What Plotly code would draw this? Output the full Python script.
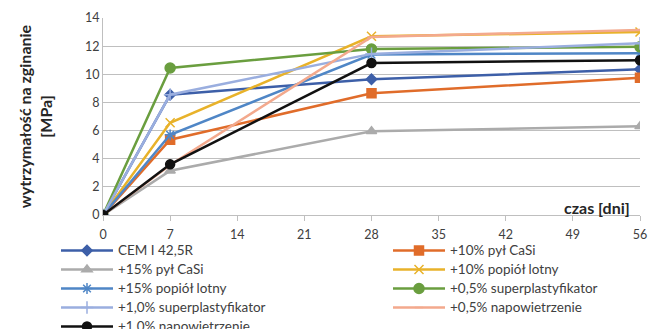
import plotly.graph_objects as go

days = [0, 7, 28, 56]
series_names = [
    "CEM I 42,5R", "+10% pył CaSi", "+15% pył CaSi", "+10% popiół lotny",
    "+15% popiół lotny", "+0,5% superplastyfikator", "+1,0% superplastyfikator",
    "+0,5% napowietrzenie", "+1,0% napowietrzenie",
]
cem = [0, 8.55, 9.65, 10.35]
pyl10 = [0, 5.35, 8.65, 9.75]
pyl15 = [0, 3.15, 5.95, 6.3]
pop10 = [0, 6.55, 12.7, 13.0]
pop15 = [0, 5.7, 11.4, 11.5]
sp05 = [0, 10.45, 11.8, 11.95]
sp10 = [0, 8.55, 11.45, 12.2]
nap05 = [0, 3.55, 12.65, 13.15]
nap10 = [0, 3.6, 10.8, 11.0]
x_ticks = [0, 7, 14, 21, 28, 35, 42, 49, 56]
y_ticks = [0, 2, 4, 6, 8, 10, 12, 14]

values = [cem, pyl10, pyl15, pop10, pop15, sp05, sp10, nap05, nap10]
colors = ["#3D5FA8", "#E06C2A", "#ABABAB", "#E8B22A", "#4F86C6",
          "#6A9E3F", "#9AAEDF", "#F3A98D", "#111111"]
symbols = ["diamond", "square", "triangle-up", "x-thin-open", "asterisk-open",
           "circle", "cross-thin-open", "line-ew-open", "circle"]
sizes = [8, 9, 9, 9, 9, 10, 9, 6, 9]

W, H = 648, 329

fig = go.Figure()
for i, (name, v, c, s, sz) in enumerate(zip(series_names, values, colors, symbols, sizes)):
    fig.add_trace(go.Scatter(
        x=days, y=v, mode="lines+markers",
        name='<span style="font-size:13.5px">' + name + "</span>",
        line=dict(color=c, width=2.5),
        marker=dict(color=c, symbol=s, size=sz, line=dict(color=c, width=1.5)),
        legend="legend" if i % 2 == 0 else "legend2",
    ))

leg_common = dict(orientation="h", xref="container", yref="container",
                  xanchor="left", yanchor="top", entrywidth=265, entrywidthmode="pixels",
                  itemwidth=52, tracegroupgap=0, maxheight=300,
                  font=dict(size=12, color="#404040"), bgcolor="rgba(0,0,0,0)")

fig.update_layout(
    width=W, height=H,
    margin=dict(l=103, r=8, t=18, b=114),
    paper_bgcolor="white", plot_bgcolor="white",
    font=dict(family="Lato, Open Sans, sans-serif", size=12, color="#404040"),
    legend=dict(leg_common, x=56 / W, y=1 - 236 / H),
    legend2=dict(leg_common, x=388 / W, y=1 - 236 / H),
    showlegend=True,
)
fig.update_xaxes(range=[0, 56], tickvals=x_ticks, showgrid=False, showline=True,
                 linecolor="#BFBFBF", linewidth=1, ticks="outside", ticklen=5,
                 tickcolor="#BFBFBF", zeroline=False, fixedrange=True,
                 automargin=False, tickfont=dict(size=12.5), ticklabelstandoff=3)
fig.update_yaxes(range=[0, 14], tickvals=y_ticks, showgrid=True, gridcolor="#BFBFBF",
                 gridwidth=1, showline=True, linecolor="#BFBFBF", zeroline=False,
                 ticks="", automargin=False, tickfont=dict(size=12.5),
                 title=dict(text="<b>wytrzymałość na zginanie<br>[MPa]</b>",
                            font=dict(size=16, color="#262626"), standoff=28))
fig.add_annotation(text="<b>czas [dni]</b>", xref="paper", yref="paper", x=0.9855, y=0.0,
                   xanchor="right", yanchor="bottom", showarrow=False,
                   font=dict(size=16, color="#262626"), yshift=-4)
fig.write_html("out.html", config={"displayModeBar": False},
               post_script="document.body.style.margin='0';document.body.style.overflow='hidden';")
